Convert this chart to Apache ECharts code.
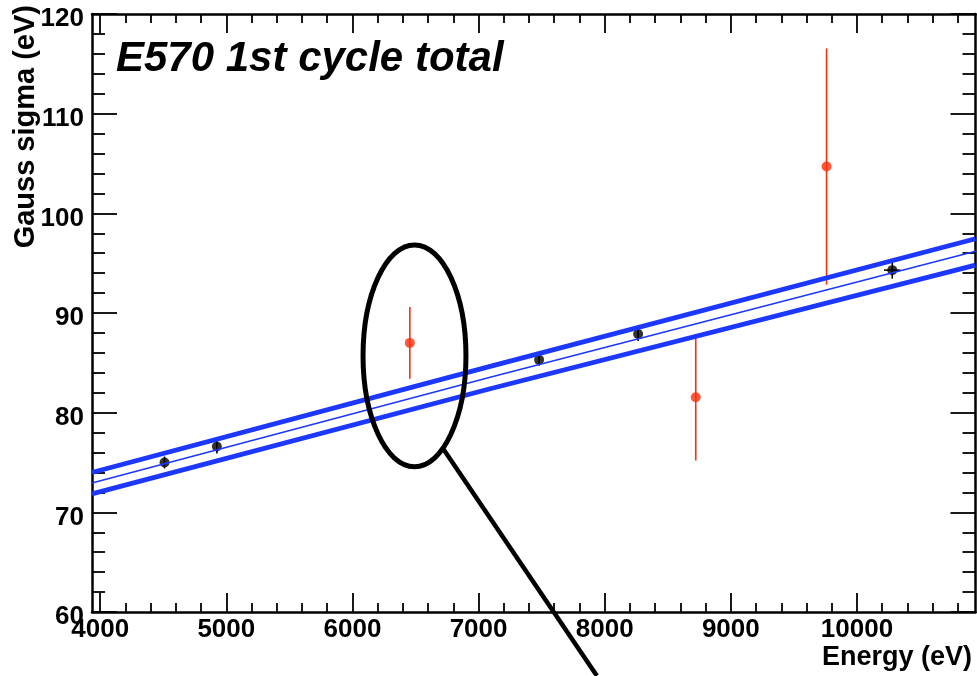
<!DOCTYPE html>
<html><head><meta charset="utf-8">
<script src="https://cdn.jsdelivr.net/npm/echarts@6/dist/echarts.min.js"></script>
<style>html,body{margin:0;padding:0;background:#fff}#c{width:977px;height:676px}</style>
</head><body><div id="c"></div>
<script>
// ---- data ----
const xRange = [3935, 10940];
const yRange = [60, 120];
const xMajorTicks = [4000, 5000, 6000, 7000, 8000, 9000, 10000];
const xMinorTicks = [4200, 4400, 4600, 4800, 5200, 5400, 5600, 5800, 6200, 6400, 6600, 6800,
  7200, 7400, 7600, 7800, 8200, 8400, 8600, 8800, 9200, 9400, 9600, 9800, 10200, 10400, 10600, 10800];

const goodE = [4510, 4925, 7480, 8265, 10280];
const goodSigma = [75.0, 76.6, 85.3, 87.9, 94.3];
const goodErr = [0.6, 0.7, 0.6, 0.7, 0.85];
const goodErrE = [0, 0, 0, 0, 65];

const badE = [6455, 8722, 9759];
const badSigma = [87.0, 81.55, 104.7];
const badErr = [3.6, 6.35, 11.85];

const fitE = [3935, 7092, 10940];
const fitCentral = [72.95, 83.55, 96.2];
const fitUpper = [74.0, 84.65, 97.45];
const fitLower = [71.85, 82.4, 94.8];

const annoCenter = [6492, 85.7];
const annoRadius = [408, 11.13];
const annoLine = [[6718, 76.4], [7938, 53.6]];

const titleText = 'E570 1st cycle total';
const xTitle = 'Energy (eV)';
const yTitle = 'Gauss sigma (eV)';

// ---- chart ----
const BLUE = '#1c38ff', RED = '#ff2d0a';
const FONT = '"Liberation Sans", Arial, Helvetica, sans-serif';
const chart = echarts.init(document.getElementById('c'));

const zip = (a, b) => a.map((v, i) => [v, b[i]]);

function errRender(color, width) {
  return function (params, api) {
    const x = api.value(0), y = api.value(1), e = api.value(2), ex = api.value(3);
    const p1 = api.coord([x, y - e]), p2 = api.coord([x, y + e]);
    const children = [{ type: 'line', shape: { x1: p1[0], y1: p1[1], x2: p2[0], y2: p2[1] },
      style: { stroke: color, lineWidth: width } }];
    if (ex > 0) {
      const q1 = api.coord([x - ex, y]), q2 = api.coord([x + ex, y]);
      children.push({ type: 'line', shape: { x1: q1[0], y1: q1[1], x2: q2[0], y2: q2[1] },
        style: { stroke: color, lineWidth: width } });
    }
    return { type: 'group', children };
  };
}

const lineStyleAxis = { color: '#000', width: 2.5 };
const tickStyle = { color: '#000', width: 1.8 };

function xAxisDef(pos, ticks, len, showLine, showLabel) {
  return {
    type: 'value', position: pos, min: xRange[0], max: xRange[1], gridIndex: 0,
    axisLine: { show: showLine, onZero: false, lineStyle: lineStyleAxis },
    axisTick: { show: true, inside: true, length: len, customValues: ticks, lineStyle: tickStyle },
    axisLabel: showLabel ? { show: true, customValues: ticks, margin: 5, color: '#000',
      formatter: (v) => String(v),
      fontFamily: FONT, fontWeight: 'bold', fontSize: 26 } : { show: false },
    splitLine: { show: false }
  };
}
function yAxisDef(pos, showLabel) {
  return {
    type: 'value', position: pos, min: yRange[0], max: yRange[1], interval: 10,
    axisLine: { show: true, onZero: false, lineStyle: lineStyleAxis },
    axisTick: { show: true, inside: true, length: 25, lineStyle: tickStyle },
    minorTick: { show: true, splitNumber: 5, length: 13, lineStyle: tickStyle },
    axisLabel: showLabel ? { show: true, margin: 8, color: '#000', verticalAlign: 'top', lineHeight: 10,
      formatter: (v) => String(v),
      fontFamily: FONT, fontWeight: 'bold', fontSize: 26, showMinLabel: true, showMaxLabel: true } : { show: false },
    splitLine: { show: false }, minorSplitLine: { show: false }
  };
}

chart.setOption({
  animation: false,
  backgroundColor: '#fff',
  grid: { left: 92, right: 1.5, top: 14, bottom: 64, outerBoundsMode: 'none' },
  xAxis: [
    xAxisDef('bottom', xMajorTicks, 19, true, true),
    xAxisDef('bottom', xMinorTicks, 9, false, false),
    xAxisDef('top', xMajorTicks, 19, true, false),
    xAxisDef('top', xMinorTicks, 9, false, false)
  ],
  yAxis: [yAxisDef('left', true), yAxisDef('right', false)],
  series: [
    { type: 'custom', name: 'goodErr', xAxisIndex: 0, yAxisIndex: 0, z: 3,
      renderItem: errRender('#000', 1.6),
      data: goodE.map((v, i) => [v, goodSigma[i], goodErr[i], goodErrE[i]]) },
    { type: 'custom', name: 'badErr', xAxisIndex: 0, yAxisIndex: 0, z: 3,
      renderItem: errRender(RED, 1.6),
      data: badE.map((v, i) => [v, badSigma[i], badErr[i], 0]) },
    { type: 'scatter', name: 'good', xAxisIndex: 0, yAxisIndex: 0, z: 4,
      symbol: 'circle', symbolSize: 10, itemStyle: { color: '#000' }, data: zip(goodE, goodSigma) },
    { type: 'scatter', name: 'bad', xAxisIndex: 0, yAxisIndex: 0, z: 4,
      symbol: 'circle', symbolSize: 10, itemStyle: { color: RED }, data: zip(badE, badSigma) },
    { type: 'line', name: 'upper', xAxisIndex: 0, yAxisIndex: 0, z: 5, showSymbol: false, symbol: 'none',
      lineStyle: { color: BLUE, width: 4.8 }, data: zip(fitE, fitUpper) },
    { type: 'line', name: 'lower', xAxisIndex: 0, yAxisIndex: 0, z: 5, showSymbol: false, symbol: 'none',
      lineStyle: { color: BLUE, width: 4.8 }, data: zip(fitE, fitLower) },
    { type: 'line', name: 'central', xAxisIndex: 0, yAxisIndex: 0, z: 5, showSymbol: false, symbol: 'none',
      lineStyle: { color: BLUE, width: 1.6 }, data: zip(fitE, fitCentral) }
  ]
});

const toPx = (p) => chart.convertToPixel({ xAxisIndex: 0, yAxisIndex: 0 }, p);
const c = toPx(annoCenter);
const r = toPx([annoCenter[0] + annoRadius[0], annoCenter[1] + annoRadius[1]]);
const l1 = toPx(annoLine[0]), l2 = toPx(annoLine[1]);

chart.setOption({
  graphic: [
    { type: 'ellipse', id: 'ell', z: 100,
      shape: { cx: c[0], cy: c[1], rx: Math.abs(r[0] - c[0]), ry: Math.abs(c[1] - r[1]) },
      style: { fill: 'none', stroke: '#000', lineWidth: 5 } },
    { type: 'line', id: 'lead', z: 100,
      shape: { x1: l1[0], y1: l1[1], x2: l2[0], y2: l2[1] },
      style: { stroke: '#000', lineWidth: 4.5 } },
    { type: 'text', id: 'title', z: 100, x: 116, y: 59.5,
      style: { text: titleText, font: 'italic bold 42px ' + FONT, fill: '#000',
        align: 'left', verticalAlign: 'middle' } },
    { type: 'text', id: 'xt', z: 100, x: 972, y: 657.5,
      style: { text: xTitle, font: 'bold 27px ' + FONT, fill: '#000', align: 'right', verticalAlign: 'middle' } },
    { type: 'text', id: 'yt', z: 100, x: 25.5, y: 5, rotation: Math.PI / 2,
      style: { text: yTitle, font: 'bold 29px ' + FONT, fill: '#000', align: 'right', verticalAlign: 'middle' } }
  ]
});
</script></body></html>
